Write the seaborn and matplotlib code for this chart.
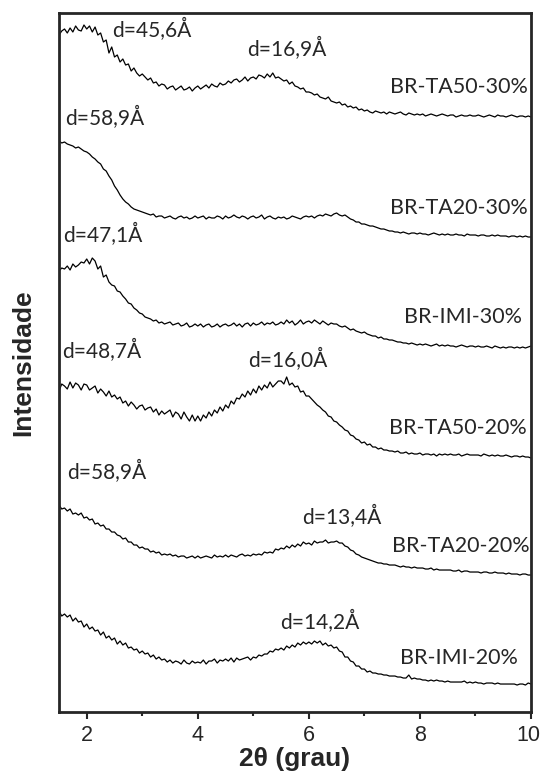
import numpy as np
import pandas as pd
import matplotlib
matplotlib.use('Agg')
import matplotlib.pyplot as plt
import matplotlib.transforms as mtrans
import seaborn as sns

# 2theta grid of the scans (step 0.05 deg)
two_theta = np.linspace(1.5, 10.0, 171)

# intensities, relative to each curve's tail (a.u.)
ta50_30 = [82, 86, 88, 84, 89, 85, 91, 87, 86, 92,
           88, 91, 85, 90, 82, 84, 75, 77, 64, 70,
           60, 62, 55, 58, 52, 53, 46, 49, 44, 41,
           43, 40, 37, 39, 34, 35, 31, 33, 32, 28,
           30, 31, 27, 29, 31, 27, 28, 30, 26, 29,
           31, 28, 30, 32, 29, 33, 31, 30, 34, 32,
           33, 36, 34, 37, 38, 35, 37, 40, 36, 39,
           40, 38, 42, 41, 39, 43, 40, 44, 39, 40,
           38, 36, 37, 33, 35, 31, 30, 28, 29, 25,
           25, 24, 22, 23, 20, 19, 18, 20, 16, 15,
           14, 15, 12, 13, 10, 11, 9, 10, 7, 8,
           6, 7, 5, 4, 6, 5, 4, 5, 3, 5,
           4, 3, 4, 5, 3, 2, 4, 3, 2, 3,
           2, 3, 1, 2, 3, 2, 1, 2, 3, 2,
           1, 2, 2, 0, 1, 2, 1, 1, 2, 1,
           1, 2, 1, 0, 1, 2, 1, 0, 2, 1,
           1, 0, 1, 2, 1, 0, 1, 1, 0, 1,
           0]

ta20_30 = [96, 94, 95, 93, 92, 91, 89, 90, 88, 86,
           85, 83, 80, 78, 75, 73, 68, 66, 61, 57,
           51, 47, 42, 38, 35, 33, 30, 28, 27, 26,
           25, 24, 23, 22, 23, 20, 21, 21, 19, 20,
           21, 19, 18, 20, 21, 19, 20, 18, 19, 21,
           19, 20, 21, 18, 20, 19, 19, 21, 20, 18,
           21, 19, 20, 22, 20, 19, 21, 20, 18, 20,
           21, 19, 20, 22, 18, 20, 21, 19, 18, 20,
           19, 20, 18, 19, 21, 20, 19, 18, 20, 21,
           20, 21, 19, 21, 22, 21, 23, 22, 21, 23,
           24, 22, 21, 22, 20, 18, 17, 15, 15, 13,
           13, 12, 11, 11, 10, 9, 8, 8, 7, 6,
           6, 5, 5, 4, 5, 4, 3, 4, 4, 3,
           4, 3, 3, 2, 3, 4, 3, 2, 3, 2,
           3, 2, 2, 3, 2, 2, 1, 3, 2, 2,
           2, 1, 2, 2, 1, 1, 2, 1, 2, 1,
           1, 1, 0, 1, 1, 0, 1, 0, 1, 0,
           0]

imi_30 = [77, 80, 79, 82, 78, 84, 81, 83, 86, 85,
          89, 84, 90, 87, 79, 82, 71, 73, 66, 63,
          62, 57, 56, 52, 49, 45, 44, 40, 38, 35,
          34, 31, 30, 29, 27, 28, 25, 26, 24, 25,
          26, 23, 24, 25, 22, 23, 25, 21, 22, 24,
          22, 24, 21, 23, 24, 21, 22, 24, 21, 23,
          24, 22, 23, 25, 22, 24, 21, 24, 25, 22,
          25, 23, 24, 26, 23, 25, 24, 26, 23, 24,
          26, 24, 28, 25, 27, 23, 25, 28, 24, 26,
          27, 25, 28, 26, 24, 27, 25, 23, 25, 24,
          24, 22, 21, 22, 20, 18, 19, 17, 16, 15,
          16, 14, 13, 12, 12, 10, 11, 9, 9, 8,
          8, 7, 6, 6, 5, 5, 4, 5, 4, 3,
          4, 3, 4, 3, 2, 3, 4, 2, 3, 2,
          3, 2, 2, 1, 2, 3, 2, 1, 2, 2,
          1, 2, 1, 1, 2, 1, 0, 2, 1, 0,
          1, 0, 1, 1, 0, 1, 0, 1, 0, 1,
          2]

ta50_20 = [67, 74, 72, 69, 76, 70, 75, 73, 68, 74,
           73, 68, 70, 72, 65, 69, 66, 62, 67, 61,
           63, 59, 61, 55, 57, 52, 56, 53, 49, 52,
           53, 48, 50, 51, 46, 49, 43, 47, 44, 46,
           48, 41, 46, 44, 39, 46, 41, 37, 43, 37,
           42, 37, 43, 40, 46, 42, 48, 45, 51, 47,
           53, 50, 57, 54, 60, 59, 64, 61, 67, 63,
           69, 65, 72, 68, 73, 70, 76, 71, 74, 77,
           77, 74, 81, 73, 75, 71, 72, 66, 67, 62,
           62, 59, 56, 53, 51, 48, 46, 42, 41, 37,
           36, 33, 31, 28, 27, 23, 22, 19, 18, 15,
           16, 13, 14, 11, 11, 9, 10, 8, 8, 7,
           7, 6, 7, 5, 5, 6, 4, 5, 4, 4,
           5, 3, 4, 4, 3, 4, 2, 4, 3, 4,
           3, 4, 3, 3, 4, 2, 3, 4, 3, 3,
           3, 3, 2, 4, 3, 2, 3, 2, 3, 2,
           2, 3, 2, 1, 2, 2, 1, 2, 1, 1,
           0]

ta20_20 = [70, 66, 67, 64, 66, 61, 62, 60, 62, 57,
           58, 55, 56, 51, 52, 49, 50, 46, 46, 43,
           43, 40, 39, 36, 37, 33, 33, 30, 30, 27,
           28, 26, 26, 23, 24, 22, 23, 20, 21, 20,
           21, 19, 20, 18, 19, 19, 17, 18, 19, 17,
           19, 17, 18, 19, 18, 17, 20, 18, 19, 18,
           20, 18, 20, 19, 18, 20, 21, 19, 20, 19,
           21, 20, 21, 20, 23, 22, 23, 22, 26, 25,
           27, 26, 29, 27, 30, 28, 31, 29, 33, 31,
           32, 30, 34, 32, 33, 33, 35, 32, 33, 33,
           34, 32, 32, 29, 28, 25, 24, 21, 20, 18,
           17, 16, 15, 14, 13, 12, 12, 11, 11, 10,
           10, 10, 9, 8, 9, 8, 8, 7, 8, 7,
           7, 7, 6, 6, 7, 5, 6, 5, 5, 5,
           5, 5, 4, 4, 5, 3, 4, 4, 3, 3,
           3, 3, 2, 3, 3, 2, 2, 3, 2, 2,
           2, 1, 2, 1, 1, 1, 0, 1, 1, 0,
           0]

imi_20 = [74, 69, 71, 68, 70, 64, 67, 63, 64, 58,
          61, 56, 58, 54, 55, 50, 53, 47, 49, 45,
          47, 41, 44, 40, 42, 37, 38, 35, 36, 32,
          34, 31, 32, 28, 30, 26, 28, 25, 26, 23,
          25, 22, 24, 23, 21, 25, 22, 21, 24, 22,
          23, 22, 25, 21, 24, 24, 26, 22, 25, 24,
          26, 24, 27, 23, 27, 25, 26, 27, 28, 25,
          28, 27, 30, 29, 31, 31, 34, 33, 36, 35,
          37, 35, 39, 37, 40, 38, 42, 40, 43, 41,
          43, 41, 44, 42, 44, 40, 42, 39, 40, 37,
          38, 34, 33, 28, 28, 24, 23, 19, 19, 16,
          16, 13, 14, 12, 12, 11, 11, 10, 10, 9,
          9, 9, 8, 8, 7, 7, 10, 6, 7, 6,
          6, 5, 5, 4, 5, 4, 5, 4, 4, 3,
          4, 3, 3, 3, 3, 3, 4, 2, 3, 2,
          3, 2, 2, 1, 2, 2, 2, 1, 2, 1,
          1, 1, 1, 1, 1, 0, 1, 1, 0, 2,
          1]

samples = ['BR-TA50-30%', 'BR-TA20-30%', 'BR-IMI-30%',
           'BR-TA50-20%', 'BR-TA20-20%', 'BR-IMI-20%']
curves = [ta50_30, ta20_30, imi_30, ta50_20, ta20_20, imi_20]
offsets = [595, 475, 364, 254, 137, 27]

# sample name positions (right aligned) and d-spacing labels
name_pos = [(9.95, 619), (9.95, 498), (9.84, 389), (9.93, 278), (9.97, 160), (9.77, 48)]
d_labels = ['d=45,6Å', 'd=16,9Å', 'd=58,9Å', 'd=47,1Å', 'd=48,7Å',
            'd=16,0Å', 'd=58,9Å', 'd=13,4Å', 'd=14,2Å']
d_pos = [(2.46, 675), (4.89, 656), (1.61, 587), (1.57, 470), (1.55, 354),
         (4.90, 345), (1.64, 233), (5.88, 188), (5.48, 83)]

sns.set_style('ticks')
plt.rcParams['font.family'] = ['Liberation Sans', 'DejaVu Sans']

fig = plt.figure(figsize=(5.41, 7.78), dpi=100)
ax = fig.add_axes([0.109, 0.0848, 0.8725, 0.8985])

for name, vals, off in zip(samples, curves, offsets):
    sns.lineplot(x=two_theta, y=np.array(vals) + off, color='black',
                 linewidth=0.9, ax=ax)

for name, (x, y) in zip(samples, name_pos):
    ax.text(x, y, name, ha='right', va='baseline', fontsize=15.5,
            family=['Lato', 'DejaVu Sans'])
for lab, (x, y) in zip(d_labels, d_pos):
    ax.text(x, y, lab, ha='left', va='baseline', fontsize=15,
            family=['Lato', 'DejaVu Sans'])

ax.set_xlim(1.5, 10)
ax.set_ylim(0, 699)
ax.set_xticks([2, 4, 6, 8, 10])
ax.set_xticks([3, 5, 7, 9], minor=True)
ax.set_yticks([])
ax.tick_params(axis='x', which='major', length=5, width=1.5, labelsize=15.5, pad=4)
ax.tick_params(axis='x', which='minor', length=3, width=1.5)
for sp in ax.spines.values():
    sp.set_visible(True)
    sp.set_linewidth(2.0)

ax.set_xlabel('2θ (grau)', fontsize=19, fontweight='bold', labelpad=1)
ax.set_ylabel('Intensidade', fontsize=19, fontweight='bold', labelpad=17)

# keep the "10" label inside the figure edge
fig.canvas.draw()
last = ax.get_xticklabels()[-1]
last.set_transform(last.get_transform() +
                   mtrans.ScaledTranslation(-3 / 100, 0, fig.dpi_scale_trans))

fig.savefig('out.png', dpi=100)
